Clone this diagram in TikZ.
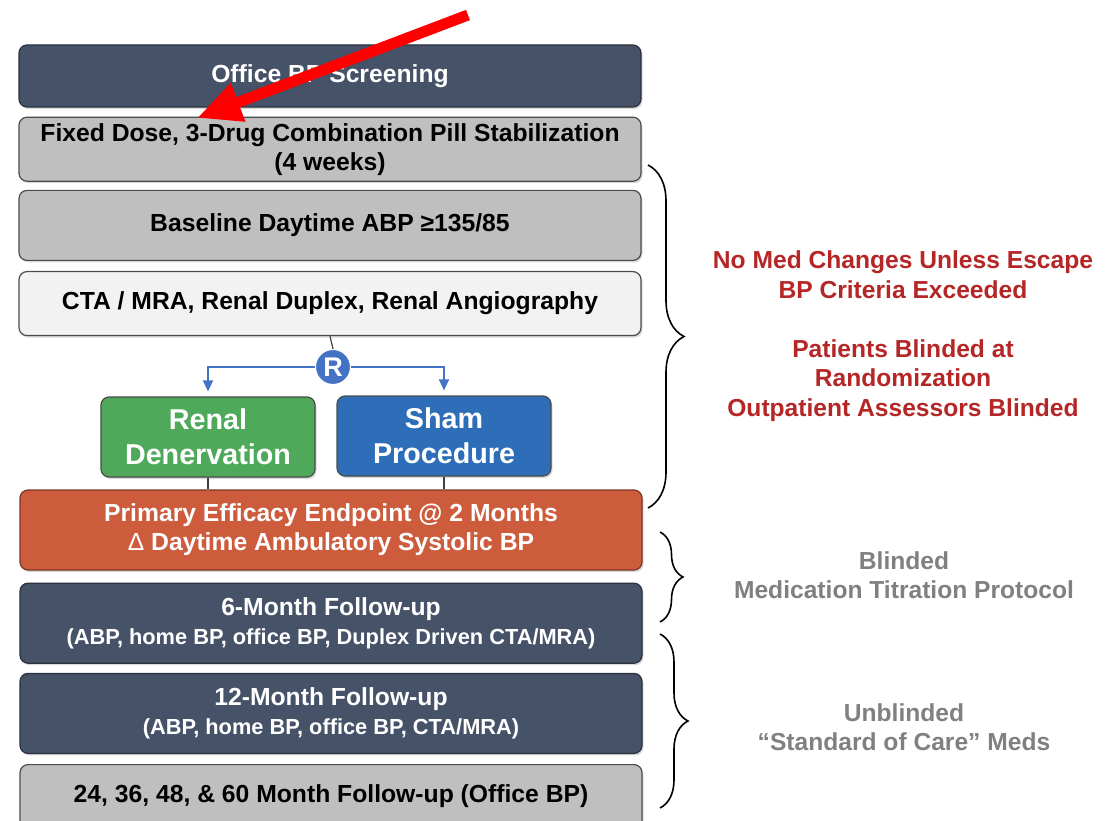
\documentclass[tikz,border=0pt]{standalone}
\usepackage{fontspec}
\setmainfont{Liberation Sans}
\usetikzlibrary{positioning,arrows.meta,decorations.pathreplacing,shadows}

\definecolor{slate}{RGB}{70,82,104}
\definecolor{boxgray}{RGB}{191,191,191}
\definecolor{boxlight}{RGB}{242,242,242}
\definecolor{rdngreen}{RGB}{78,170,90}
\definecolor{shamblue}{RGB}{46,110,184}
\definecolor{rblue}{RGB}{68,114,196}
\definecolor{endorange}{RGB}{205,92,61}
\definecolor{notered}{RGB}{181,38,38}
\definecolor{notegray}{RGB}{128,128,128}

\newcommand{\followdetail}[1]{{\fontsize{21.8}{26}\selectfont #1}}

\begin{document}
\begin{tikzpicture}[x=1pt, y=1pt,
    stage/.style={rectangle, rounded corners=8pt, draw=black!70, line width=1.2pt,
        minimum width=622pt, align=center, text=black,
        font=\fontsize{24.7}{29}\selectfont\bfseries,
        drop shadow={shadow xshift=1.5pt, shadow yshift=-2pt, opacity=0.3}},
    darkstage/.style={stage, fill=slate, draw=slate!60!black, text=white},
    graystage/.style={stage, fill=boxgray},
    lightstage/.style={stage, fill=boxlight},
    armnode/.style={stage, minimum width=214pt, minimum height=80pt, text=white,
        font=\fontsize{28.7}{35}\selectfont\bfseries},
    randnode/.style={circle, fill=rblue, draw=white, line width=1pt, minimum size=35pt,
        inner sep=0pt, text=white, font=\fontsize{27}{27}\selectfont\bfseries},
    note/.style={align=center, font=\fontsize{24.6}{29.5}\selectfont\bfseries},
    link/.style={draw=black!75, line width=1.2pt},
    split/.style={-{Triangle[length=11pt,width=10pt]}, draw=rblue,
        line width=1.6pt, shorten >=5pt},
    bracket/.style={decorate, decoration={brace, amplitude=#1, aspect=0.5},
        draw=black, line width=1.6pt},
    pointer/.style={-{Triangle[length=44pt,width=38pt]}, draw=red, line width=11pt}
    ]
        \useasboundingbox[fill=white] (0,0) rectangle (1112,-821);

        %Nodes
        \node[darkstage, minimum height=62pt]
            (bScreen)   at (330,-76)        {Office BP Screening};
        \node[graystage, minimum height=64pt]
            (bPill)     [below=9pt of bScreen]
            {Fixed Dose, 3-Drug Combination Pill Stabilization\\(4 weeks)};
        \node[graystage, minimum height=70pt]
            (bBase)     [below=8pt of bPill]    {Baseline Daytime ABP ≥135/85};
        \node[lightstage, minimum height=64pt]
            (bImg)      [below=10pt of bBase]
            {CTA / MRA, Renal Duplex, Renal Angiography};
        \node[randnode]
            (mR)        at (333,-367)       {R};
        \node[armnode, fill=rdngreen]
            (bRDN)      at (208,-437)       {Renal\\Denervation};
        \node[armnode, fill=shamblue]
            (bSham)     at (444,-436)       {Sham\\Procedure};
        \node[stage, fill=endorange, draw=endorange!60!black, text=white, minimum height=80pt]
            (bPrim)     at (331,-530)
            {Primary Efficacy Endpoint @ 2 Months\\{\mdseries Δ} Daytime Ambulatory Systolic BP};
        \node[darkstage, minimum height=80pt]
            (b6)        [below=12pt of bPrim]
            {6-Month Follow-up\\\followdetail{(ABP, home BP, office BP, Duplex Driven CTA/MRA)}};
        \node[darkstage, minimum height=80pt]
            (b12)       [below=9pt of b6]
            {12-Month Follow-up\\\followdetail{(ABP, home BP, office BP, CTA/MRA)}};
        \node[graystage, minimum height=64pt]
            (bLong)     [below=10pt of b12]
            {24, 36, 48, \& 60 Month Follow-up (Office BP)};

        %Notes
        \node[note, text=notered]
            (nBlind)    at (903,-336)
            {No Med Changes Unless Escape\\BP Criteria Exceeded\\[29.5pt]Patients Blinded at\\Randomization\\Outpatient Assessors Blinded};
        \node[note, text=notegray]
            (nTitr)     at (904,-575)       {Blinded\\Medication Titration Protocol};
        \node[note, text=notegray]
            (nSoc)      at (904,-727)       {Unblinded\\“Standard of Care” Meds};

        %Lines
        \draw[link] (bImg.south) -- (mR.north);
        \draw[split] (mR.west) -| (bRDN.north);
        \draw[split] (mR.east) -| (bSham.north);
        \draw[link] (bRDN.south) -- (bRDN.south |- bPrim.north);
        \draw[link] (bSham.south) -- (bSham.south |- bPrim.north);

        %Braces
        \draw[bracket=36pt] (648,-165) -- (648,-508);
        \draw[bracket=23pt] (660,-532) -- (660,-622);
        \draw[bracket=28pt] (660,-634) -- (660,-808);

        %Pointer
        \coordinate (tail) at (468,-15);
        \coordinate (head) at (197,-118);
        \draw[pointer] (tail) -- (head);
    \end{tikzpicture}
\end{document}
